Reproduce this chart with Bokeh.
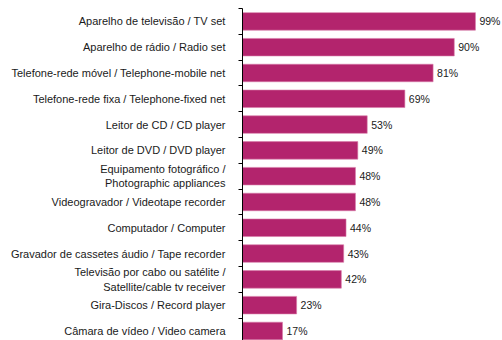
from bokeh.plotting import figure
from bokeh.models import Range1d, FixedTicker, ColumnDataSource
from bokeh.core.properties import value
from bokeh.embed import file_html
from bokeh.resources import INLINE

categories = [
    "Aparelho de televisão / TV set",
    "Aparelho de rádio / Radio set",
    "Telefone-rede móvel / Telephone-mobile net",
    "Telefone-rede fixa / Telephone-fixed net",
    "Leitor de CD / CD player",
    "Leitor de DVD / DVD player",
    "Equipamento fotográfico /\nPhotographic appliances",
    "Videogravador / Videotape recorder",
    "Computador / Computer",
    "Gravador de cassetes áudio / Tape recorder",
    "Televisão por cabo ou satélite /\nSatellite/cable tv receiver",
    "Gira-Discos / Record player",
    "Câmara de vídeo / Video camera",
]
values = [99, 90, 81, 69, 53, 49, 48, 48, 44, 43, 42, 23, 17]

pos = list(range(len(categories)))
src = ColumnDataSource(dict(y=pos, v=values, lab=[f"{v}%" for v in values]))

p = figure(width=502, height=340, output_backend="svg", toolbar_location=None,
           x_range=Range1d(0, 110.5), y_range=Range1d(12.37, -0.5),
           min_border_left=242, min_border_right=0, min_border_top=8, min_border_bottom=0)
p.outline_line_color = None
p.xgrid.visible = False
p.ygrid.visible = False
p.xaxis.visible = False

p.hbar(y="y", right="v", left=0, height=0.68, source=src,
       fill_color="#B3246D", line_color="#D77AA8", line_width=0.6)
p.text(x="v", y="y", text="lab", source=src, x_offset=4,
       text_baseline="middle", text_align="left",
       text_font=value("Liberation Sans"), text_font_size="10.5px", text_color="#1a1a1a")

yax = p.yaxis[0]
yax.ticker = FixedTicker(ticks=pos, minor_ticks=[i - 0.5 for i in range(len(categories) + 1)])
yax.major_label_overrides = {i: c for i, c in enumerate(categories)}
yax.major_tick_out = 0
yax.major_tick_in = 0
yax.minor_tick_out = 4
yax.minor_tick_in = 0
yax.minor_tick_line_color = "black"
yax.axis_line_color = "black"
yax.major_label_standoff = 13
yax.major_label_text_font = "Liberation Sans"
yax.major_label_text_font_size = "11px"
yax.major_label_text_color = "#1a1a1a"

open("out.html", "w").write(file_html(p, INLINE))
